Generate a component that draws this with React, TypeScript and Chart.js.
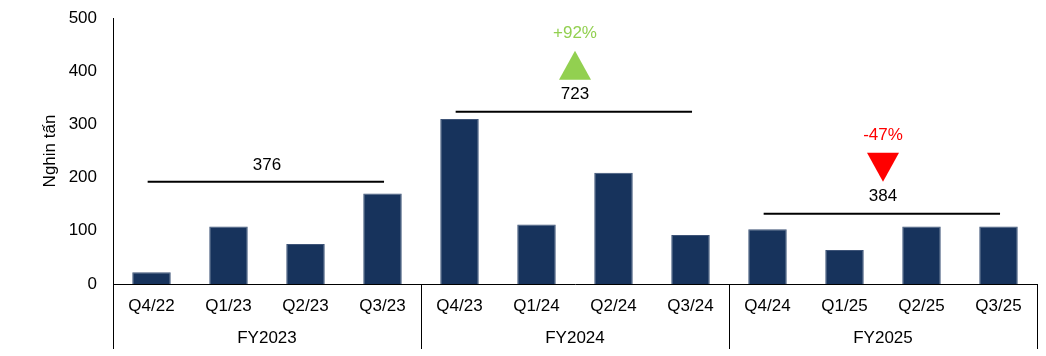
import React, { useEffect, useRef } from "react";
import { Chart, registerables } from "chart.js";

Chart.register(...registerables);

const quarters = ["Q4/22", "Q1/23", "Q2/23", "Q3/23", "Q4/23", "Q1/24", "Q2/24", "Q3/24", "Q4/24", "Q1/25", "Q2/25", "Q3/25"];
const volumes = [22, 108, 75, 170, 310, 112, 209, 92, 103, 64, 108, 108];
const fiscalYears = ["FY2023", "FY2024", "FY2025"];
const yearTotals = [376, 723, 384];
const totalLineLevels = [192, 324, 132];
const yearChanges: (string | null)[] = [null, "+92%", "-47%"];
const yTicks = [0, 100, 200, 300, 400, 500];
const quartersPerYear = 4;
const yTitle = "Nghin tấn";

const FONT = "'Liberation Sans', Arial, sans-serif";
const BAR = "#17335C";
const BAR_EDGE = "#3E5478";
const UP = "#92D050";
const DOWN = "#FF0000";

const overlayPlugin = {
  id: "overlay",
  afterDraw(chart: any) {
    const { ctx, scales } = chart;
    const xs = scales.x;
    const ys = scales.y;
    const p0 = xs.getPixelForValue(0);
    const step = xs.getPixelForValue(1) - p0;
    const pix = (idx: number) => p0 + idx * step;
    const bottom = chart.chartArea.bottom;
    ctx.save();

    // group separators
    ctx.strokeStyle = "#000";
    ctx.lineWidth = 1;
    for (let g = 0; g <= fiscalYears.length; g++) {
      const x = Math.round(pix(g * quartersPerYear - 0.5)) + 0.5;
      ctx.beginPath();
      ctx.moveTo(x, bottom);
      ctx.lineTo(x, bottom + 65);
      ctx.stroke();
    }

    ctx.font = `17px ${FONT}`;
    ctx.textAlign = "center";
    ctx.textBaseline = "middle";
    fiscalYears.forEach((fy, g) => {
      const cx = pix(g * quartersPerYear + (quartersPerYear - 1) / 2);
      ctx.fillStyle = "#000";
      ctx.fillText(fy, cx, bottom + 54);

      // total line
      const L = ys.getPixelForValue(totalLineLevels[g]);
      ctx.lineWidth = 2;
      ctx.beginPath();
      ctx.moveTo(pix(g * quartersPerYear - 0.05), L);
      ctx.lineTo(pix(g * quartersPerYear + 3.02), L);
      ctx.stroke();
      ctx.fillText(String(yearTotals[g]), cx, L - 17);

      const ch = yearChanges[g];
      if (ch) {
        const up = ch.startsWith("+");
        const color = up ? UP : DOWN;
        const tb = L - 32;
        const tt = L - 61;
        ctx.fillStyle = color;
        ctx.beginPath();
        if (up) {
          ctx.moveTo(cx, tt);
          ctx.lineTo(cx + 16, tb);
          ctx.lineTo(cx - 16, tb);
        } else {
          ctx.moveTo(cx - 16, tt);
          ctx.lineTo(cx + 16, tt);
          ctx.lineTo(cx, tb);
        }
        ctx.closePath();
        ctx.fill();
        ctx.fillText(ch, cx, L - 78);
      }
    });

    // y title
    ctx.fillStyle = "#000";
    ctx.translate(50, (chart.chartArea.top + bottom) / 2 + 0);
    ctx.rotate(-Math.PI / 2);
    ctx.fillText(yTitle, 0, 0);
    ctx.restore();
  },
};

export default function App() {
  const ref = useRef<HTMLCanvasElement>(null);
  useEffect(() => {
    if (!ref.current) return;
    const chart = new Chart(ref.current, {
      type: "bar",
      data: {
        labels: quarters,
        datasets: [
          {
            data: volumes,
            backgroundColor: BAR,
            borderColor: BAR_EDGE,
            borderWidth: { top: 1, left: 1, right: 1, bottom: 0 },
            barPercentage: 0.5,
            categoryPercentage: 1.0,
          },
        ],
      },
      options: {
        responsive: false,
        animation: false,
        layout: { padding: { top: 18, right: 9, left: 0, bottom: 0 } },
        plugins: { legend: { display: false }, tooltip: { enabled: false } },
        scales: {
          x: {
            grid: { display: false, drawTicks: false },
            border: { display: true, color: "#000", width: 1 },
            ticks: { color: "#000", font: { family: FONT, size: 17 }, padding: 12, maxRotation: 0, autoSkip: false },
            afterFit: (s: any) => {
              s.height = 72;
            },
          },
          y: {
            min: 0,
            max: 500,
            afterBuildTicks: (s: any) => {
              s.ticks = yTicks.map((v) => ({ value: v }));
            },
            grid: { display: false, drawTicks: true, tickLength: 16, tickColor: "rgba(0,0,0,0)" },
            border: { display: true, color: "#000", width: 1 },
            ticks: { color: "#000", font: { family: FONT, size: 17 }, padding: 0 },
            afterFit: (s: any) => {
              s.width = 113;
            },
          },
        },
      },
      plugins: [overlayPlugin],
    });
    return () => chart.destroy();
  }, []);
  return (
    <div style={{ position: "absolute", left: 0, top: 0, width: 1046, height: 356, background: "#fff" }}>
      <canvas ref={ref} width={1046} height={356} style={{ width: 1046, height: 356 }} />
    </div>
  );
}
